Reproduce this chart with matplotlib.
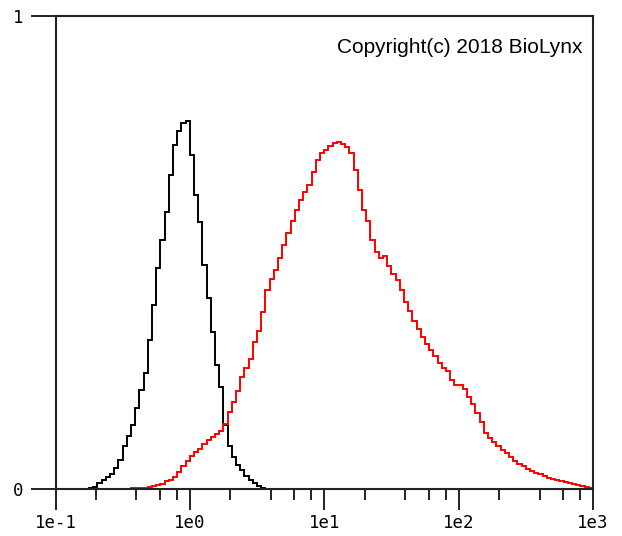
"""Flow cytometry overlay histogram: isotype control (black) vs stained sample (red)."""

import numpy as np
import matplotlib
matplotlib.use('Agg')
import matplotlib.pyplot as plt
import matplotlib.ticker as mticker


# Channel layout: 128 log channels over 4 decades (1e-1 .. 1e3)
N_CHANNELS = 128
LOG_MIN, LOG_MAX = -1, 3

# Control histogram (black), starting at channel 0
control_start = 0
control_counts = [
    0.0, 0.0, 0.0, 0.0, 0.0, 0.0, 0.0, 0.0, 0.002, 0.004,
    0.013, 0.019, 0.025, 0.032, 0.044, 0.061, 0.091, 0.112, 0.135, 0.171,
    0.209, 0.245, 0.315, 0.389, 0.467, 0.526, 0.586, 0.664, 0.727, 0.757,
    0.774, 0.778, 0.706, 0.622, 0.564, 0.474, 0.404, 0.332, 0.262, 0.216,
    0.135, 0.091, 0.068, 0.051, 0.040, 0.027, 0.019, 0.013, 0.006, 0.002,
    0.0, 0.0, 0.0, 0.0, 0.0,
]

# Stained sample histogram (red), starting at channel 16
sample_start = 16
sample_counts = [
    0.0, 0.001, 0.002, 0.002, 0.002, 0.003, 0.004, 0.006, 0.008, 0.011,
    0.017, 0.019, 0.025, 0.036, 0.049, 0.059, 0.070, 0.078, 0.085, 0.095,
    0.104, 0.110, 0.116, 0.123, 0.137, 0.163, 0.184, 0.207, 0.237, 0.256,
    0.275, 0.311, 0.334, 0.374, 0.421, 0.444, 0.463, 0.488, 0.516, 0.541,
    0.567, 0.590, 0.611, 0.628, 0.643, 0.670, 0.696, 0.710, 0.717, 0.725,
    0.731, 0.734, 0.729, 0.723, 0.710, 0.674, 0.632, 0.590, 0.567, 0.526,
    0.501, 0.488, 0.493, 0.471, 0.455, 0.442, 0.421, 0.395, 0.376, 0.355,
    0.338, 0.321, 0.307, 0.294, 0.281, 0.266, 0.256, 0.249, 0.230, 0.220,
    0.220, 0.211, 0.195, 0.180, 0.161, 0.142, 0.118, 0.108, 0.099, 0.091,
    0.082, 0.076, 0.068, 0.059, 0.053, 0.049, 0.042, 0.038, 0.034, 0.032,
    0.027, 0.023, 0.021, 0.019, 0.017, 0.015, 0.013, 0.011, 0.008, 0.006,
    0.004, 0.002,
]

x_major = [0.1, 1, 10, 100, 1000]
x_labels = ['1e-1', '1e0', '1e1', '1e2', '1e3']
y_major = [0, 1]
y_labels = ['0', '1']
copyright_text = 'Copyright(c) 2018 BioLynx'


edges = np.logspace(LOG_MIN, LOG_MAX, N_CHANNELS + 1)

fig = plt.figure(figsize=(6.22, 5.36), dpi=100)
ax = fig.add_axes([55.5 / 622, 47 / 536, 537.5 / 622, 473 / 536])

ax.stairs(control_counts,
          edges[control_start:control_start + len(control_counts) + 1],
          baseline=None, color='black', linewidth=1.4)
ax.stairs(sample_counts,
          edges[sample_start:sample_start + len(sample_counts) + 1],
          baseline=None, color='#ff0000', linewidth=1.4)

ax.set_xscale('log')
ax.set_xlim(10 ** LOG_MIN, 10 ** LOG_MAX)
ax.set_ylim(0, 1)

ax.xaxis.set_major_locator(mticker.FixedLocator(x_major))
ax.xaxis.set_major_formatter(mticker.FixedFormatter(x_labels))
ax.xaxis.set_minor_locator(mticker.LogLocator(base=10, subs=[2, 4, 6, 8]))
ax.xaxis.set_minor_formatter(mticker.NullFormatter())
ax.set_yticks(y_major)
ax.set_yticklabels(y_labels)

for lbl in ax.get_xticklabels() + ax.get_yticklabels():
    lbl.set_fontfamily('DejaVu Sans Mono')
    lbl.set_fontsize(12.5)

ax.tick_params(axis='x', which='major', direction='out', length=15,
               width=1.4, pad=3, color='#222222')
ax.tick_params(axis='x', which='minor', direction='out', length=8,
               width=1.4, color='#222222')
ax.tick_params(axis='y', which='major', direction='out', length=18,
               width=1.4, pad=5, color='#222222')
for sp in ax.spines.values():
    sp.set_linewidth(1.5)
    sp.set_color('#222222')

ax.text(0.981, 0.934, copyright_text, transform=ax.transAxes,
        ha='right', va='center', fontsize=15, family='Liberation Sans',
        color='black')

fig.savefig('out.png', dpi=100)
plt.close(fig)
